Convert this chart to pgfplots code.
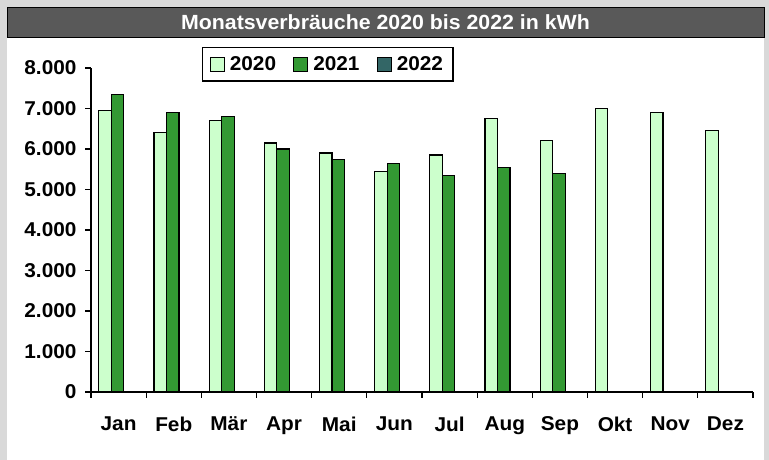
\documentclass[border=0pt]{standalone}
\usepackage{pgfplots}
\pgfplotsset{compat=1.18}
\usepackage{fontspec}
\setmainfont{Liberation Sans}[FakeStretch=1.04]
\definecolor{bg}{HTML}{D9D9D9}
\definecolor{titlebar}{HTML}{595959}
\definecolor{cA}{HTML}{CCFFCC}
\definecolor{cB}{HTML}{339933}
\definecolor{cC}{HTML}{336666}
\begin{document}
\begin{tikzpicture}[x=1pt,y=1pt]
\fill[bg] (0,0) rectangle (769,460);
\fill[white] (7,0) rectangle (764,424);
\fill[titlebar,draw=black,line width=0.8pt] (7,423) rectangle (764,453);
\node[text=white,font=\bfseries\fontsize{20.5}{24}\selectfont] at (385.5,438) {Monatsverbräuche 2020 bis 2022 in kWh};
\begin{axis}[
  at={(91pt,68pt)}, anchor=south west,
  scale only axis, width=662pt, height=324pt,
  xmin=-0.5, xmax=11.5, ymin=0, ymax=8000,
  axis x line*=bottom, axis y line*=left,
  axis line style={-, line width=1.3pt, black},
  xtick={-0.5,0.5,...,11.5},
  x tick label as interval,
  xticklabels={Jan,Feb,Mär,Apr,Mai,Jun,Jul,Aug,Sep,Okt,Nov,Dez},
  ytick={0,1000,...,8000},
  tick align=outside,
  major tick length=6pt,
  tick style={black, line width=1.3pt},
  /pgf/number format/assume math mode=true,
  /pgf/number format/1000 sep={.},
  tick label style={font=\bfseries\fontsize{20}{24}\selectfont},
  xticklabel style={yshift=-15pt},
  yticklabel style={xshift=-5pt},
  ybar, bar width=12.5pt,
  legend style={at={(0.1677,1.0648)}, anchor=north west, draw=black, line width=1.2pt,
    font=\bfseries\fontsize{20}{24}\selectfont, legend columns=3,
    column sep=2pt, inner xsep=7pt, inner ysep=7pt,
    nodes={inner xsep=3pt},
    /tikz/every even column/.append style={column sep=14pt}},
  legend image code/.code={\draw[#1,line width=1.2pt] (0pt,-7pt) rectangle (14pt,7pt);},
]
\addplot[fill=cA, draw=black, line width=1.2pt, bar shift=-13.5pt] coordinates {
 (0,6950) (1,6400) (2,6700) (3,6150) (4,5900) (5,5450) (6,5850) (7,6750) (8,6200) (9,7000) (10,6900) (11,6450)};
\addlegendentry{2020}
\addplot[fill=cB, draw=black, line width=1.2pt, bar shift=-1pt] coordinates {
 (0,7350) (1,6900) (2,6800) (3,6000) (4,5750) (5,5650) (6,5350) (7,5550) (8,5400)};
\addlegendentry{2021}
\addlegendimage{fill=cC, draw=black}
\addlegendentry{2022}
\end{axis}
\end{tikzpicture}
\end{document}
